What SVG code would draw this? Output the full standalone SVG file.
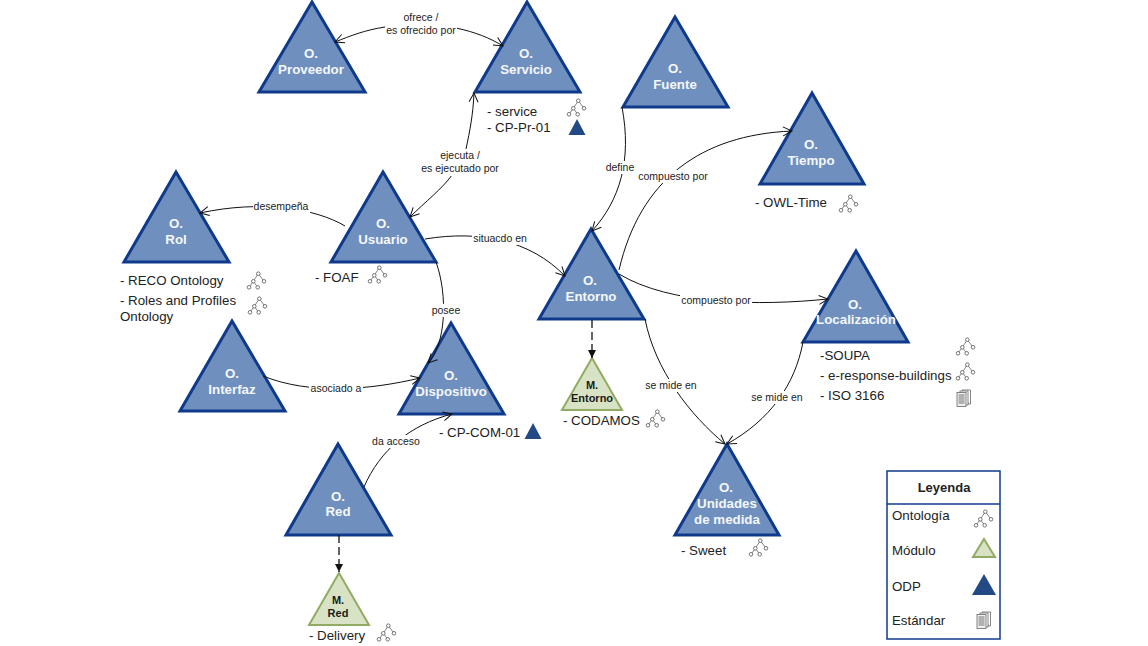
<svg xmlns="http://www.w3.org/2000/svg" width="1148" height="646" viewBox="0 0 1148 646">
<style>
text{font-family:"Liberation Sans",Arial,sans-serif}
.o{fill:#6F90BE;stroke:#0F3A8C;stroke-width:3;stroke-linejoin:miter}
.ot{fill:#F4F7FB;font-size:13.3px;font-weight:bold;text-anchor:middle}
.m{fill:#D8E3C5;stroke:#92AB62;stroke-width:2}
.mt{fill:#1a1a1a;font-size:11px;font-weight:bold;text-anchor:middle}
.t{fill:#222;font-size:13.3px}
.l{fill:#222;font-size:10.5px;text-anchor:middle}
.c{fill:none;stroke:#111;stroke-width:1;marker-end:url(#a)}
.d{fill:none;stroke:#111;stroke-width:1.3;stroke-dasharray:8 4;marker-end:url(#b)}
.bg{fill:#fff}
.odp{fill:#234A85}
.ic{fill:#fff;stroke:#666;stroke-width:.9}
</style>
<defs>
<marker id="a" markerUnits="userSpaceOnUse" markerWidth="12" markerHeight="12" refX="10" refY="6" orient="auto"><path d="M1 1.5L10 6L1 10.5" fill="none" stroke="#111" stroke-width="1"/></marker>
<marker id="b" markerUnits="userSpaceOnUse" markerWidth="10" markerHeight="10" refX="8" refY="5" orient="auto"><path d="M0 1L8 5L0 9Z" fill="#111"/></marker>
<g id="tree">
<path d="M1.3-7.300-3.700.3M1.300-7.300 7 .3M-3.700.3-8 6.300M-3.700.3.700 6.300" fill="none" stroke="#666" stroke-width=".8"/>
<circle class="ic" cx="1.300" cy="-7.300" r="1.800"/><circle class="ic" cx="-3.700" cy=".3" r="1.800"/><circle class="ic" cx="7" cy=".3" r="1.800"/><circle class="ic" cx="-8" cy="6.300" r="1.800"/><circle class="ic" cx=".7" cy="6.300" r="1.800"/>
</g>
<g id="doc">
<path d="M-2-8h8.500v14h-2z" fill="#fff" stroke="#666" stroke-width=".8"/>
<rect x="-4" y="-7" width="8" height="14" fill="#fff" stroke="#666" stroke-width=".8"/>
<rect x="-7" y="-5.500" width="9" height="14" fill="#eee" stroke="#666" stroke-width=".8"/>
<path d="M-5.500-3h6M-5.500-1h6M-5.500 1h6M-5.500 3h6M-5.500 5h6" stroke="#666" stroke-width=".9"/>
</g>
<path id="odp" class="odp" d="M0-9L8.500 7H-8.500Z"/>
</defs>

<g id="n-proveedor"><path class="o" d="M312 2L365 92H259Z"/><text class="ot" x="311" y="58">O.</text><text class="ot" x="311" y="74">Proveedor</text></g>
<g id="n-servicio"><path class="o" d="M527 2L580 92H475Z"/><text class="ot" x="526" y="58">O.</text><text class="ot" x="526" y="74">Servicio</text></g>
<g id="n-fuente"><path class="o" d="M675 17L728 107H623Z"/><text class="ot" x="675" y="73">O.</text><text class="ot" x="675" y="89">Fuente</text></g>
<g id="n-tiempo"><path class="o" d="M812 93L864 184H760Z"/><text class="ot" x="811" y="149">O.</text><text class="ot" x="811" y="165">Tiempo</text></g>
<g id="n-rol"><path class="o" d="M176 172L229 262H124Z"/><text class="ot" x="176" y="228">O.</text><text class="ot" x="176" y="244">Rol</text></g>
<g id="n-usuario"><path class="o" d="M383 172L436 262H331Z"/><text class="ot" x="383" y="228">O.</text><text class="ot" x="383" y="244">Usuario</text></g>
<g id="n-entorno"><path class="o" d="M591 229L644 319H539Z"/><text class="ot" x="590" y="285">O.</text><text class="ot" x="591" y="301">Entorno</text></g>
<g id="n-localizacion"><path class="o" d="M856 251L908 342H803Z"/><text class="ot" x="855" y="309">O.</text><text class="ot" x="856" y="324">Localización</text></g>
<g id="n-interfaz"><path class="o" d="M232 321L285 411H180Z"/><text class="ot" x="232" y="378">O.</text><text class="ot" x="232" y="394">Interfaz</text></g>
<g id="n-dispositivo"><path class="o" d="M451 323L504 414H399Z"/><text class="ot" x="451" y="380">O.</text><text class="ot" x="451" y="396">Dispositivo</text></g>
<g id="n-red"><path class="o" d="M338 444L391 535H286Z"/><text class="ot" x="338" y="501">O.</text><text class="ot" x="338" y="516">Red</text></g>
<g id="n-unidades"><path class="o" d="M727 444L779 535H675Z"/><text class="ot" x="726" y="492">O.</text><text class="ot" x="727" y="508">Unidades</text><text class="ot" x="727" y="524">de medida</text></g>
<g id="n-m-entorno"><path class="m" d="M592 358L622 410H562Z"/><text class="mt" x="592" y="389">M.</text><text class="mt" x="592" y="402">Entorno</text></g>
<g id="n-m-red"><path class="m" d="M339 573L369 625H309Z"/><text class="mt" x="338" y="604">M.</text><text class="mt" x="338" y="617">Red</text></g>

<g id="connectors">
<path class="c" d="M385 27C365 30 350 36 335 42"/>
<path class="c" d="M456 28C475 32 490 38 503 46"/>
<path class="c" d="M466 149C470 130 473 115 474 93"/>
<path class="c" d="M452 175C443 188 425 202 410 217"/>
<path class="c" d="M345 226C315 208 260 200 200 213"/>
<path class="c" d="M425 239C480 230 530 240 565 276"/>
<path class="c" d="M436 262C448 295 446 345 428 363"/>
<path class="c" d="M263 376C310 395 370 390 420 378"/>
<path class="c" d="M364 487C380 450 410 425 452 414"/>
<path class="c" d="M622 107C632 160 620 200 592 231"/>
<path class="c" d="M619 270C640 180 700 135 792 131"/>
<path class="c" d="M619 274C670 305 760 306 828 299"/>
<path class="c" d="M645 319C655 370 690 415 725 444"/>
<path class="c" d="M803 342C795 385 770 420 727 444"/>
<path class="d" d="M592 320V358"/>
<path class="d" d="M339 535V572"/>
</g>

<g id="labels">
<rect class="bg" x="385" y="11" width="72" height="26"/>
<text class="l" x="421" y="21">ofrece /</text><text class="l" x="421" y="34">es ofrecido por</text>
<rect class="bg" x="419" y="150" width="82" height="26"/>
<text class="l" x="460" y="159">ejecuta /</text><text class="l" x="460" y="172">es ejecutado por</text>
<rect class="bg" x="253" y="201" width="57" height="12"/><text class="l" x="281" y="210">desempeña</text>
<rect class="bg" x="472" y="233" width="57" height="12"/><text class="l" x="500" y="242">situacdo en</text>
<rect class="bg" x="431" y="304" width="30" height="13"/><text class="l" x="446" y="314">posee</text>
<rect class="bg" x="309" y="382" width="54" height="13"/><text class="l" x="336" y="392">asociado a</text>
<rect class="bg" x="371" y="435" width="50" height="13"/><text class="l" x="396" y="445">da acceso</text>
<rect class="bg" x="604" y="161" width="32" height="13"/><text class="l" x="620" y="171">define</text>
<rect class="bg" x="637" y="170" width="72" height="13"/><text class="l" x="673" y="180">compuesto por</text>
<rect class="bg" x="680" y="294" width="72" height="13"/><text class="l" x="716" y="304">compuesto por</text>
<rect class="bg" x="644" y="379" width="54" height="13"/><text class="l" x="671" y="389">se mide en</text>
<rect class="bg" x="750" y="391" width="54" height="13"/><text class="l" x="777" y="401">se mide en</text>
</g>

<g id="annotations">
<text class="t" x="487" y="116">- service</text><text class="t" x="487" y="132">- CP-Pr-01</text>
<use href="#tree" x="577" y="108"/><use href="#odp" x="577" y="128"/>
<text class="t" x="755" y="207">- OWL-Time</text><use href="#tree" x="849" y="204"/>
<text class="t" x="120" y="285">- RECO Ontology</text><text class="t" x="120" y="305">- Roles and Profiles</text><text class="t" x="120" y="321">Ontology</text>
<use href="#tree" x="257" y="281"/><use href="#tree" x="258" y="306"/>
<text class="t" x="315" y="282">- FOAF</text><use href="#tree" x="378" y="275"/>
<text class="t" x="820" y="360">-SOUPA</text><text class="t" x="820" y="380">- e-response-buildings</text><text class="t" x="820" y="400">- ISO 3166</text>
<use href="#tree" x="966" y="347"/><use href="#tree" x="966" y="372"/><use href="#doc" x="964" y="398"/>
<text class="t" x="563" y="425">- CODAMOS</text><use href="#tree" x="656" y="419"/>
<text class="t" x="439" y="437">- CP-COM-01</text><use href="#odp" x="533" y="432"/>
<text class="t" x="681" y="555">- Sweet</text><use href="#tree" x="759" y="548"/>
<text class="t" x="309" y="640">- Delivery</text><use href="#tree" x="387" y="633"/>
</g>

<g id="legend">
<rect x="887" y="471" width="113" height="168" fill="#fff" stroke="#0F3A8C" stroke-width="1.500"/>
<path d="M887 504H1000" stroke="#0F3A8C" stroke-width="1.500"/>
<text x="944" y="492" font-size="13" font-weight="bold" fill="#222" text-anchor="middle">Leyenda</text>
<text class="t" x="892" y="520">Ontología</text><use href="#tree" x="984" y="519"/>
<text class="t" x="892" y="555">Módulo</text><path class="m" d="M984 539L995 557H973Z" stroke-width="1.500"/>
<text class="t" x="892" y="591">ODP</text><path class="odp" d="M984 574L996 595H972Z"/>
<text class="t" x="892" y="625">Estándar</text><use href="#doc" x="984" y="620"/>
</g>
</svg>
